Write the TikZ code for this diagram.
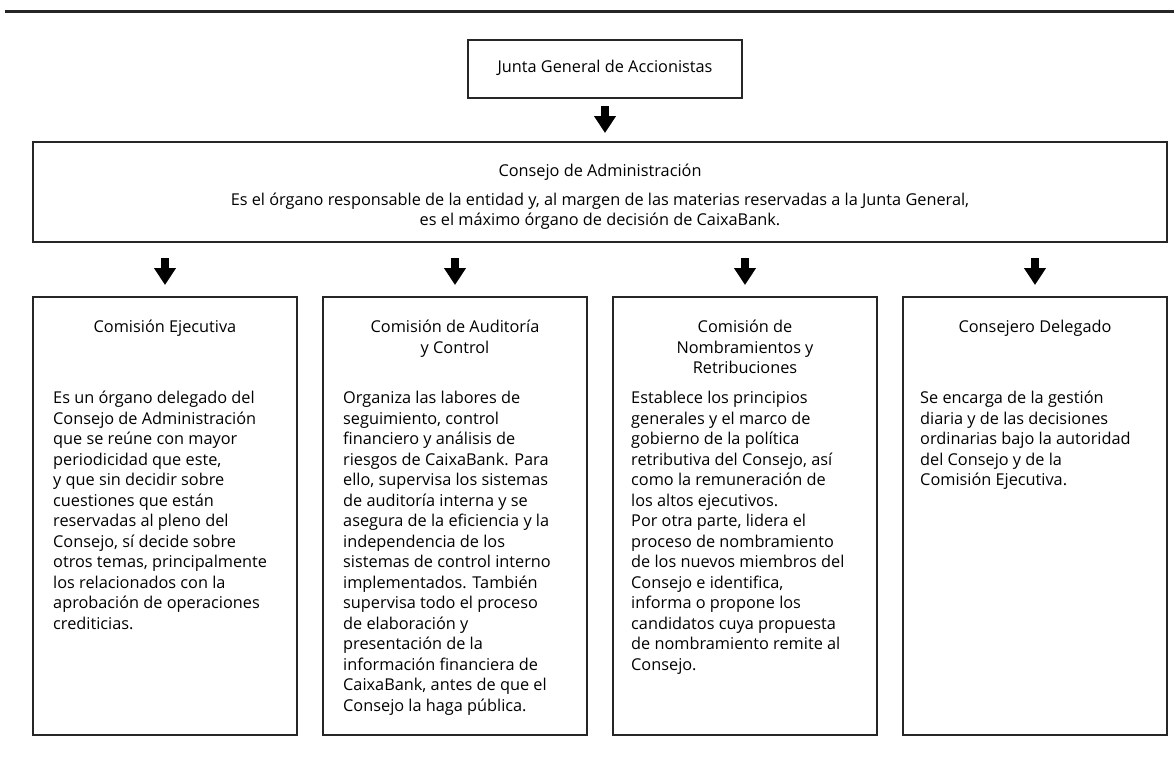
\documentclass[tikz,border=0pt]{standalone}
\usepackage{fontspec}
\setmainfont{Open Sans}
\usetikzlibrary{arrows.meta}
\begin{document}
\begin{tikzpicture}[x=1pt,y=-1pt,
  box/.style={draw=black!85, line width=1.2pt, inner sep=0pt},
  blockarrow/.style={line width=8pt, black, -{Triangle[width=21pt,length=17pt]}},
  ttl/.style={font=\fontsize{16.3}{20.5}\selectfont, align=center, anchor=north, inner sep=0pt},
  body/.style={font=\fontsize{16.3}{20.5}\selectfont, align=left, anchor=north west, inner sep=0pt},
  ctext/.style={font=\fontsize{16.3}{20.5}\selectfont, align=center, anchor=center, inner sep=0pt},
]
\useasboundingbox (0,0) rectangle (1174,760);
\draw[line width=3pt, black!85] (5,12) -- (1174,12);

% top box
\node[box, minimum width=274pt, minimum height=58pt] (junta) at (605,69) {};
\node[ctext] (juntat) at (605,68) {Junta General de Accionistas};

% consejo
\node[box, minimum width=1134pt, minimum height=100pt] (consejo) at (600,192) {};
\node[ctext] (consejot) at (600,172) {Consejo de Administración};
\node[ctext] (consejob) at (600,211) {Es el órgano responsable de la entidad y, al margen de las materias reservadas a la Junta General,\\ es el máximo órgano de decisión de CaixaBank.};

\coordinate (a0s) at (605,106); \coordinate (a0e) at (605,133);
\draw[blockarrow] (a0s) -- (a0e);

% bottom boxes
\node[box, minimum width=264pt, minimum height=438pt] (b1) at (165,516) {};
\node[box, minimum width=264pt, minimum height=438pt] (b2) at (455,516) {};
\node[box, minimum width=264pt, minimum height=438pt] (b3) at (745,516) {};
\node[box, minimum width=264pt, minimum height=438pt] (b4) at (1035,516) {};

\foreach \x/\n in {165/1,455/2,745/3,1035/4}{
  \coordinate (s\n) at (\x,258); \coordinate (e\n) at (\x,285);
  \draw[blockarrow] (s\n) -- (e\n);
}

\node[ttl] (t1) at (165,320) {Comisión Ejecutiva};
\node[ttl] (t2) at (455,320) {Comisión de Auditoría\\y Control};
\node[ttl] (t3) at (745,320) {Comisión de\\Nombramientos y\\Retribuciones};
\node[ttl] (t4) at (1035,320) {Consejero Delegado};

\node[body] (d1) at (53,391) {Es un órgano delegado del\\Consejo de Administración\\que se reúne con mayor\\periodicidad que este,\\y que sin decidir sobre\\cuestiones que están\\reservadas al pleno del\\Consejo, sí decide sobre\\otros temas, principalmente\\los relacionados con la\\aprobación de operaciones\\crediticias.};
\node[body] (d2) at (343,391) {Organiza las labores de\\seguimiento, control\\financiero y análisis de\\riesgos de CaixaBank. Para\\ello, supervisa los sistemas\\de auditoría interna y se\\asegura de la eficiencia y la\\independencia de los\\sistemas de control interno\\implementados. También\\supervisa todo el proceso\\de elaboración y\\presentación de la\\información financiera de\\CaixaBank, antes de que el\\Consejo la haga pública.};
\node[body] (d3) at (631,391) {Establece los principios\\generales y el marco de\\gobierno de la política\\retributiva del Consejo, así\\como la remuneración de\\los altos ejecutivos.\\Por otra parte, lidera el\\proceso de nombramiento\\de los nuevos miembros del\\Consejo e identifica,\\informa o propone los\\candidatos cuya propuesta\\de nombramiento remite al\\Consejo.};
\node[body] (d4) at (920,391) {Se encarga de la gestión\\diaria y de las decisiones\\ordinarias bajo la autoridad\\del Consejo y de la\\Comisión Ejecutiva.};
\end{tikzpicture}
\end{document}
